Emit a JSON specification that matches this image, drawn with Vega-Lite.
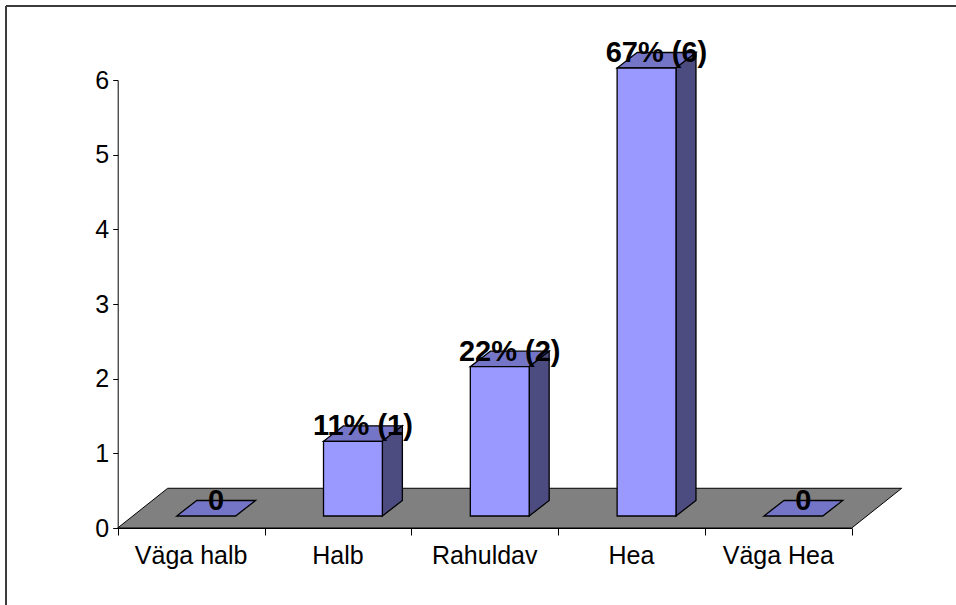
{
  "$schema": "https://vega.github.io/schema/vega-lite/v6.json",
  "width": 950,
  "height": 599,
  "autosize": {"type": "none"},
  "padding": {"left": 6, "top": 6, "right": 0, "bottom": 0},
  "background": "white",
  "config": {
    "view": {"stroke": "#3c3c3c", "strokeWidth": 2, "strokeDash": [950, 1549, 599, 0]},
    "font": "Liberation Sans"
  },
  "data": {
    "values": [
      {"category": "Väga halb", "idx": 0, "value": 0, "label": "0"},
      {"category": "Halb", "idx": 1, "value": 1, "label": "11% (1)"},
      {"category": "Rahuldav", "idx": 2, "value": 2, "label": "22% (2)"},
      {"category": "Hea", "idx": 3, "value": 6, "label": "67% (6)"},
      {"category": "Väga Hea", "idx": 4, "value": 0, "label": "0"}
    ]
  },
  "layer": [
    {
      "transform": [
        {"aggregate": [{"op": "max", "field": "idx", "as": "hi"}]},
        {"calculate": "[0, 1]", "as": "k"},
        {"flatten": ["k"]},
        {"calculate": "datum.k * 0.532", "as": "fy"},
        {"calculate": "datum.k * 0.3406", "as": "fx"},
        {"calculate": "datum.hi + 1 + datum.k * 0.3406", "as": "fx2"}
      ],
      "mark": {"type": "area", "orient": "horizontal", "fill": "#808080", "stroke": "black", "strokeWidth": 1, "interpolate": "linear"},
      "encoding": {
        "y": {
          "field": "fy", "type": "quantitative", "title": null,
          "scale": {"domain": [0, 6], "range": [522, 74], "nice": false, "zero": false},
          "axis": {"values": [0, 1, 2, 3, 4, 5, 6], "format": "d", "title": null, "grid": false, "domainColor": "black", "domainWidth": 1, "tickColor": "black", "tickSize": 5, "labelFontSize": 25, "labelColor": "black", "labelFont": "Liberation Sans", "labelPadding": 4, "offset": -111.7}
        },
        "x": {
          "field": "fx", "type": "quantitative", "title": null, "stack": null,
          "scale": {"domain": [0, 5], "range": [111.7, 845.7], "nice": false, "zero": false},
          "axis": {"values": [0, 1, 2, 3, 4, 5], "labels": false, "title": null, "grid": false, "domainColor": "black", "domainWidth": 1, "tickColor": "black", "tickSize": 7, "offset": -77}
        },
        "x2": {"field": "fx2"}
      }
    },
    {
      "transform": [
        {"calculate": "[0, 1]", "as": "k"},
        {"flatten": ["k"]},
        {"calculate": "datum.value + 0.161 + datum.k * 0.2076", "as": "ty"},
        {"calculate": "datum.idx + 0.402 + datum.k * 0.1362", "as": "tx"},
        {"calculate": "datum.idx + 0.803 + datum.k * 0.1362", "as": "tx2"}
      ],
      "mark": {"type": "area", "orient": "horizontal", "fill": "#7575C8", "stroke": "black", "strokeWidth": 1.3, "interpolate": "linear"},
      "encoding": {
        "y": {"field": "ty", "type": "quantitative", "title": null},
        "x": {"field": "tx", "type": "quantitative", "title": null, "stack": null},
        "x2": {"field": "tx2"},
        "detail": {"field": "category"}
      }
    },
    {
      "transform": [
        {"filter": "datum.value > 0"},
        {"calculate": "[0, 1]", "as": "k"},
        {"flatten": ["k"]},
        {"calculate": "datum.idx + 0.803 + datum.k * 0.1362", "as": "sx"},
        {"calculate": "0.161 + datum.k * 0.2076", "as": "sy"},
        {"calculate": "datum.value + 0.161 + datum.k * 0.2076", "as": "sy2"}
      ],
      "mark": {"type": "area", "orient": "vertical", "fill": "#4C4C80", "stroke": "black", "strokeWidth": 1.3, "interpolate": "linear"},
      "encoding": {
        "x": {"field": "sx", "type": "quantitative", "title": null},
        "y": {"field": "sy", "type": "quantitative", "title": null, "stack": null},
        "y2": {"field": "sy2"},
        "detail": {"field": "category"}
      }
    },
    {
      "transform": [
        {"filter": "datum.value > 0"},
        {"calculate": "datum.idx + 0.402", "as": "bx"},
        {"calculate": "datum.idx + 0.803", "as": "bx2"},
        {"calculate": "0.161", "as": "by"},
        {"calculate": "datum.value + 0.161", "as": "by2"}
      ],
      "mark": {"type": "rect", "fill": "#9999FF", "stroke": "black", "strokeWidth": 1.3},
      "encoding": {
        "x": {"field": "bx", "type": "quantitative", "title": null},
        "x2": {"field": "bx2"},
        "y": {"field": "by", "type": "quantitative", "title": null},
        "y2": {"field": "by2"}
      }
    },
    {
      "transform": [
        {"calculate": "datum.idx + 0.67", "as": "lx"},
        {"calculate": "datum.value + 0.161", "as": "ly"}
      ],
      "mark": {"type": "text", "font": "Liberation Sans", "fontWeight": "bold", "fontSize": 29, "color": "black", "align": "center", "baseline": "alphabetic", "dy": -6},
      "encoding": {
        "x": {"field": "lx", "type": "quantitative", "title": null},
        "y": {"field": "ly", "type": "quantitative", "title": null},
        "text": {"field": "label"}
      }
    },
    {
      "transform": [
        {"calculate": "datum.idx + 0.5", "as": "cx"}
      ],
      "mark": {"type": "text", "font": "Liberation Sans", "fontSize": 25, "color": "black", "align": "center", "baseline": "alphabetic", "dy": 36},
      "encoding": {
        "x": {"field": "cx", "type": "quantitative", "title": null},
        "y": {"datum": 0, "type": "quantitative"},
        "text": {"field": "category"}
      }
    }
  ]
}
